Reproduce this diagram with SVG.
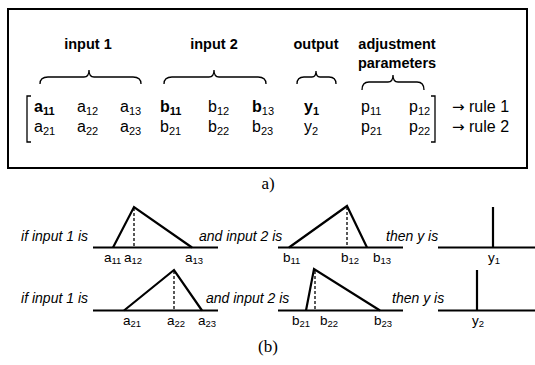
<svg xmlns="http://www.w3.org/2000/svg" width="535" height="365" viewBox="0 0 535 365">
<style>
.t{font-family:"Liberation Sans",Arial,sans-serif;font-size:14px;fill:#000}
.h{font-weight:bold;text-anchor:middle;font-size:14.5px}
.m{font-size:16px}
.s{font-size:11px}
.ss{font-size:9.5px}
.b{font-weight:bold}
.ar{font-family:"DejaVu Sans",sans-serif;font-size:15px}
.l{font-family:"Liberation Sans",Arial,sans-serif;font-size:13.5px;fill:#000}
.i{font-style:italic;font-size:14px}
.cap{font-family:"Liberation Serif","Times New Roman",serif;font-size:17px;text-anchor:middle}
.ln{stroke:#000;stroke-width:2.2;fill:none}
.br{stroke:#000;stroke-width:1.3;fill:none}
.d{stroke:#000;stroke-width:1.3;stroke-dasharray:3,2;fill:none}
</style>
<rect x="8" y="9" width="519" height="159" fill="none" stroke="#000" stroke-width="2"/>
<g id="labels">
<text class="t h" x="88" y="49">input 1</text>
<text class="t h" x="214" y="49">input 2</text>
<text class="t h" x="316" y="49">output</text>
<text class="t h" x="397" y="49">adjustment</text>
<text class="t h" x="397" y="68">parameters</text>
</g>
<g id="braces">
<path class="br" d="M40,84 Q40,77 48,77 L84,77 Q89,77 89,70 Q89,77 94,77 L133,77 Q141,77 141,84"/>
<path class="br" d="M164,84 Q164,77 172,77 L209,77 Q214,77 214,70 Q214,77 219,77 L258,77 Q266,77 266,84"/>
<path class="br" d="M297,84 Q297,77 304,77 L312,77 Q316,77 316,71 Q316,77 320,77 L329,77 Q336,77 336,84"/>
<path class="br" d="M362,90 Q362,82 369,82 L388,82 Q393,82 393,75 Q393,82 398,82 L417,82 Q424,82 424,90"/>
</g>
<g id="matrix">
<path class="br" d="M31,96 L27,96 L27,142 L31,142"/>
<path class="br" d="M431,96 L435,96 L435,142 L431,142"/>
<text class="t m" x="34" y="112"><tspan class="b">a</tspan><tspan class="s b" dy="3">11</tspan></text>
<text class="t m" x="77" y="112">a<tspan class="s" dy="3">12</tspan></text>
<text class="t m" x="120" y="112">a<tspan class="s" dy="3">13</tspan></text>
<text class="t m" x="160" y="112"><tspan class="b">b</tspan><tspan class="s b" dy="3">11</tspan></text>
<text class="t m" x="208" y="112">b<tspan class="s" dy="3">12</tspan></text>
<text class="t m" x="252" y="112"><tspan class="b">b</tspan><tspan class="s" dy="3">13</tspan></text>
<text class="t m" x="304" y="112"><tspan class="b">y</tspan><tspan class="s b" dy="3">1</tspan></text>
<text class="t m" x="361" y="112">p<tspan class="s" dy="3">11</tspan></text>
<text class="t m" x="409" y="112">p<tspan class="s" dy="3">12</tspan></text>
<text class="t m" x="34" y="132">a<tspan class="s" dy="3">21</tspan></text>
<text class="t m" x="77" y="132">a<tspan class="s" dy="3">22</tspan></text>
<text class="t m" x="120" y="132">a<tspan class="s" dy="3">23</tspan></text>
<text class="t m" x="160" y="132">b<tspan class="s" dy="3">21</tspan></text>
<text class="t m" x="208" y="132">b<tspan class="s" dy="3">22</tspan></text>
<text class="t m" x="252" y="132">b<tspan class="s" dy="3">23</tspan></text>
<text class="t m" x="304" y="132">y<tspan class="s" dy="3">2</tspan></text>
<text class="t m" x="361" y="132">p<tspan class="s" dy="3">21</tspan></text>
<text class="t m" x="409" y="132">p<tspan class="s" dy="3">22</tspan></text>
<text class="t m" x="452" y="112"><tspan class="ar">→</tspan> rule 1</text>
<text class="t m" x="452" y="132"><tspan class="ar">→</tspan> rule 2</text>
</g>
<text class="cap" x="268" y="189">a)</text>
<g id="row1">
<text class="l i" x="88" y="241" text-anchor="end">if input 1 is</text>
<text class="l i" x="199" y="241">and input 2 is</text>
<text class="l i" x="386" y="241">then y is</text>
<line class="ln" x1="93" y1="247.5" x2="218" y2="247.5"/>
<polyline class="ln" points="113,247.5 134,207 192,247.5"/>
<line class="d" x1="134" y1="208" x2="134" y2="247"/>
<line class="ln" x1="278" y1="247.5" x2="403" y2="247.5"/>
<polyline class="ln" points="289,247.5 347,206 367,247.5"/>
<line class="d" x1="347" y1="207" x2="347" y2="247"/>
<line class="ln" x1="438" y1="247.5" x2="535" y2="247.5"/>
<line class="ln" x1="493" y1="207" x2="493" y2="247.5"/>
<text class="l" x="104" y="262">a<tspan class="ss" dy="2">11</tspan></text>
<text class="l" x="124" y="262">a<tspan class="ss" dy="2">12</tspan></text>
<text class="l" x="185" y="262">a<tspan class="ss" dy="2">13</tspan></text>
<text class="l" x="283" y="262">b<tspan class="ss" dy="2">11</tspan></text>
<text class="l" x="341" y="262">b<tspan class="ss" dy="2">12</tspan></text>
<text class="l" x="373" y="262">b<tspan class="ss" dy="2">13</tspan></text>
<text class="l" x="488" y="262">y<tspan class="ss" dy="2">1</tspan></text>
</g>
<g id="row2">
<text class="l i" x="88" y="303" text-anchor="end">if input 1 is</text>
<text class="l i" x="206" y="303">and input 2 is</text>
<text class="l i" x="392" y="303">then y is</text>
<line class="ln" x1="93" y1="310.5" x2="218" y2="310.5"/>
<polyline class="ln" points="124,310.5 174,270 202,310.5"/>
<line class="d" x1="174" y1="271" x2="174" y2="310"/>
<line class="ln" x1="278" y1="310.5" x2="403" y2="310.5"/>
<polyline class="ln" points="306,310.5 314,269 380,310.5"/>
<line class="d" x1="315" y1="271" x2="315" y2="310"/>
<line class="ln" x1="438" y1="310.5" x2="535" y2="310.5"/>
<line class="ln" x1="477" y1="270" x2="477" y2="310.5"/>
<text class="l" x="123" y="325">a<tspan class="ss" dy="2">21</tspan></text>
<text class="l" x="167" y="325">a<tspan class="ss" dy="2">22</tspan></text>
<text class="l" x="198" y="325">a<tspan class="ss" dy="2">23</tspan></text>
<text class="l" x="292" y="325">b<tspan class="ss" dy="2">21</tspan></text>
<text class="l" x="320" y="325">b<tspan class="ss" dy="2">22</tspan></text>
<text class="l" x="374" y="325">b<tspan class="ss" dy="2">23</tspan></text>
<text class="l" x="472" y="325">y<tspan class="ss" dy="2">2</tspan></text>
</g>
<text class="cap" x="268" y="352">(b)</text>
</svg>
